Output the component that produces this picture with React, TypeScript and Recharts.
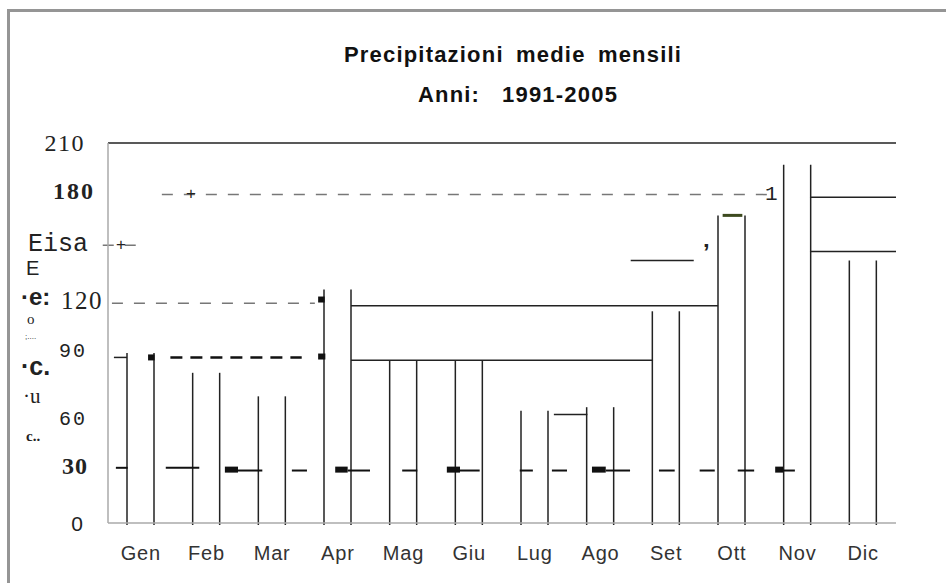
import { BarChart, Bar, XAxis, YAxis, ReferenceLine } from 'recharts';

const months = ['Gen', 'Feb', 'Mar', 'Apr', 'Mag', 'Giu', 'Lug', 'Ago', 'Set', 'Ott', 'Nov', 'Dic'];
const rainfall = [94, 83, 70, 129, 90, 90, 62, 64, 117, 170, 198, 145];
const monthPos = [0.5, 1.5, 2.5, 3.5, 4.5, 5.5, 6.5, 7.5, 8.5, 9.5, 10.5, 11.5];

const yTicks = [0, 30, 60, 90, 120, 150, 180, 210];
const yTickLabels = ['0', '30', '60', '90', '120', 'Eisa', '180', '210'];

// scan leftovers: horizontal pieces, x in month units (0..12), value in mm
const solidPieces = [
  { from: 3.7, to: 9.29, value: 120 },
  { from: 3.7, to: 8.3, value: 90 },
  { from: 10.69, to: 12, value: 180 },
  { from: 10.69, to: 12, value: 150 },
  { from: 7.96, to: 8.92, value: 145 },
  { from: 6.79, to: 7.3, value: 60 },
  { from: 0.09, to: 0.29, value: 91.5 },
];
const greenPiece = [{ from: 9.36, to: 9.66, value: 170 }];
const grayDashes = [
  { from: 0.82, to: 10.05, value: 181.5 },
  { from: 0.06, to: 3.15, value: 121.5 },
  { from: -0.08, to: 0.52, value: 153.5 },
];
const blackDash = [{ from: 0.95, to: 2.95, value: 91.5 }];
const lowDashes = [
  [0.12, 0.3, 30.5], [0.88, 1.39, 30.5], [1.98, 2.35, 29], [2.8, 3.03, 29],
  [3.65, 3.99, 29], [4.48, 4.71, 29], [5.36, 5.66, 29], [6.27, 6.47, 29],
  [6.76, 6.99, 29], [7.58, 7.95, 29], [8.39, 8.63, 29], [9.01, 9.24, 29],
  [9.59, 9.84, 29], [10.28, 10.46, 29],
];
const blobs = [
  [1.78, 1.98, 29.5], [3.46, 3.65, 29.5], [5.16, 5.36, 29.5], [7.37, 7.58, 29.5],
  [10.16, 10.28, 29.5], [0.61, 0.71, 91.5], [3.2, 3.31, 92], [3.2, 3.3, 123.5],
];

const data = months.map((m, i) => ({ month: m, pos: monthPos[i], pioggia: rainfall[i] }));

// per-label look of the y ticks (scan mixed up the fonts)
const yTickStyle: Record<string, any> = {
  '210': { right: 85, dy: 0, font: 'Liberation Serif', size: 24, weight: 400, sp: 1.5 },
  '180': { right: 95, dy: -6, font: 'Liberation Serif', size: 24, weight: 700, sp: 2 },
  'Eisa': { right: 88, dy: -7, font: 'Liberation Mono', size: 25, weight: 400, sp: 0 },
  '120': { right: 103, dy: -5, font: 'Liberation Serif', size: 25, weight: 400, sp: 1.5 },
  '90': { right: 87, dy: -9, font: 'Liberation Mono', size: 20, weight: 400, sp: 2 },
  '60': { right: 87, dy: 5, font: 'Liberation Mono', size: 20, weight: 400, sp: 2 },
  '30': { right: 88, dy: -3, font: 'Liberation Serif', size: 24, weight: 700, sp: 1 },
  '0': { right: 83, dy: 0, font: 'Liberation Sans', size: 21, weight: 400, sp: 0 },
};

const YTick = (props: any) => {
  const label = yTickLabels[yTicks.indexOf(props.payload.value)];
  const s = yTickStyle[label];
  return (
    <text
      x={s.right}
      y={props.y + s.dy}
      textAnchor="end"
      dominantBaseline="central"
      fontFamily={s.font}
      fontSize={s.size}
      fontWeight={s.weight}
      letterSpacing={s.sp}
      fill="#222"
    >
      {label}
    </text>
  );
};

const XTick = (props: any) => (
  <text
    x={props.x}
    y={props.y + 22}
    textAnchor="middle"
    dominantBaseline="central"
    fontFamily="Liberation Sans, Arial, sans-serif"
    fontSize={20}
    letterSpacing={0.8}
    fill="#333"
  >
    {props.payload.value}
  </text>
);

// bars only kept their two sides in the scan
const OpenBar = (props: any) => {
  const { x, y, width, height } = props;
  return (
    <g stroke="#222" strokeWidth={1.5}>
      <line x1={x} x2={x} y1={y} y2={y + height + 2} />
      <line x1={x + width} x2={x + width} y1={y} y2={y + height + 2} />
    </g>
  );
};

const piece = (p: { from: number; to: number; value: number }, i: number, stroke: string, width: number, dash?: string) => (
  <ReferenceLine
    key={`${stroke}-${i}-${p.value}-${p.from}`}
    xAxisId="u"
    segment={[{ x: p.from, y: p.value }, { x: p.to, y: p.value }]}
    stroke={stroke}
    strokeWidth={width}
    strokeDasharray={dash}
    ifOverflow="visible"
  />
);

const garble = [
  { t: 'E', x: 26, y: 268, font: 'Liberation Sans', size: 20, weight: 400 },
  { t: '·e:', x: 21, y: 296, font: 'Liberation Sans', size: 24, weight: 700 },
  { t: 'o', x: 27, y: 319, font: 'Liberation Serif', size: 15, weight: 400 },
  { t: ';....', x: 25, y: 336, font: 'Liberation Sans', size: 8, weight: 400 },
  { t: '·c.', x: 21, y: 366, font: 'Liberation Sans', size: 25, weight: 700 },
  { t: '·u', x: 23, y: 396, font: 'Liberation Serif', size: 21, weight: 400 },
  { t: 'c..', x: 26, y: 436, font: 'Liberation Serif', size: 15, weight: 700 },
  { t: '+', x: 186, y: 193, font: 'Liberation Sans', size: 17, weight: 400 },
  { t: '+', x: 116, y: 244, font: 'Liberation Sans', size: 17, weight: 400 },
  { t: '1', x: 765, y: 194, font: 'Liberation Mono', size: 21, weight: 400 },
  { t: '\u2019', x: 703, y: 252, font: 'Liberation Sans', size: 24, weight: 700 },
];

export default function App() {
  return (
    <div style={{ position: 'absolute', left: 0, top: 0, width: 946, height: 583, background: '#fff', overflow: 'hidden' }}>
      <div
        style={{
          position: 'absolute',
          left: 7,
          top: 9,
          width: 960,
          height: 600,
          borderLeft: '3px solid #959595',
          borderTop: '3px solid #959595',
        }}
      />
      <div style={{ position: 'absolute', left: 0, top: 0 }}>
        <BarChart width={946} height={583} data={data} margin={{ top: 143, right: 50, bottom: 30, left: 48 }} barSize={27}>
          <XAxis dataKey="month" axisLine={{ stroke: '#aaa', strokeWidth: 1.5 }} tickLine={false} tick={<XTick />} height={30} interval={0} />
          <XAxis xAxisId="u" dataKey="pos" type="number" domain={[0, 12]} hide />
          <YAxis
            domain={[0, 210]}
            ticks={yTicks}
            interval={0}
            width={60}
            axisLine={{ stroke: '#aaa', strokeWidth: 1.5 }}
            tickLine={false}
            tick={<YTick />}
          />
          <ReferenceLine y={210} stroke="#222" strokeWidth={1.5} />
          {solidPieces.map((p, i) => piece(p, i, '#222', 1.5))}
          {greenPiece.map((p, i) => piece(p, i, '#3d4a1f', 3))}
          {grayDashes.map((p, i) => piece(p, i, '#777', 1.5, '11 11'))}
          {blackDash.map((p, i) => piece(p, i, '#111', 2.5, '12 8'))}
          {lowDashes.map((d, i) => piece({ from: d[0], to: d[1], value: d[2] }, i, '#111', 2))}
          {blobs.map((d, i) => piece({ from: d[0], to: d[1], value: d[2] }, i, '#111', 6))}
          <Bar dataKey="pioggia" fill="none" shape={<OpenBar />} isAnimationActive={false} />
        </BarChart>
      </div>
      <svg width={946} height={583} style={{ position: 'absolute', left: 0, top: 0, pointerEvents: 'none' }}>
        <text x={513} y={54} textAnchor="middle" dominantBaseline="central" fontFamily="Liberation Sans, Arial, sans-serif" fontWeight={700} fontSize={22} letterSpacing={1.2} wordSpacing={5} fill="#111">
          Precipitazioni medie mensili
        </text>
        <text x={518} y={94} textAnchor="middle" dominantBaseline="central" fontFamily="Liberation Sans, Arial, sans-serif" fontWeight={700} fontSize={22} letterSpacing={1.2} fill="#111" style={{ whiteSpace: 'pre' }}>
          {'Anni:   1991-2005'}
        </text>
        {garble.map((g, i) => (
          <text key={i} x={g.x} y={g.y} dominantBaseline="central" fontFamily={g.font} fontSize={g.size} fontWeight={g.weight} fill="#222">
            {g.t}
          </text>
        ))}
      </svg>
    </div>
  );
}
